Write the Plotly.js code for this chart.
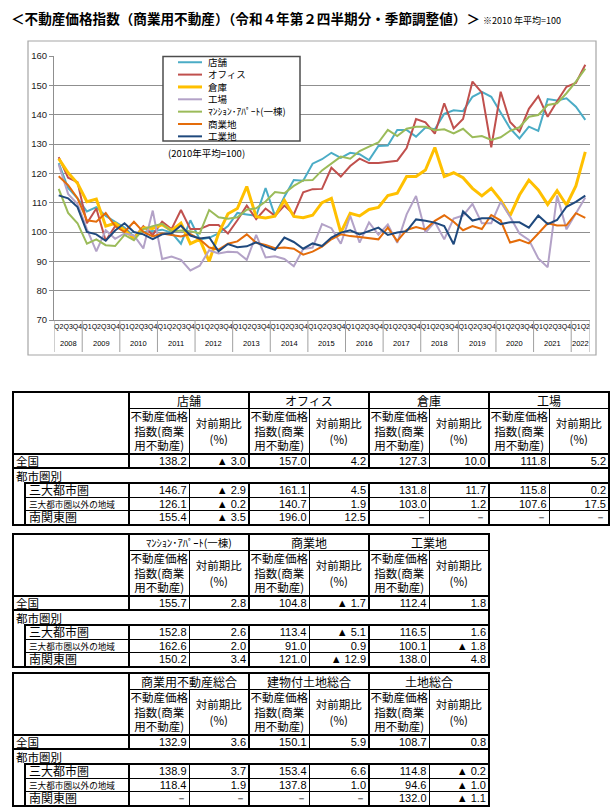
<!DOCTYPE html>
<html><head><meta charset="utf-8">
<script src="https://cdn.plot.ly/plotly-3.0.1.min.js"></script>
<style>
html,body{margin:0;padding:0;background:#fff;width:614px;height:809px;overflow:hidden;font-family:"Noto Sans CJK JP",sans-serif;color:#000;}
#chart{position:absolute;left:0;top:0;width:614px;height:362px;}
table.t{border-collapse:collapse;table-layout:fixed;position:absolute;left:12px;border:2px solid #000;}
table.t td{padding:0;white-space:nowrap;vertical-align:middle;}
.corner{border-right:2px solid #000;border-bottom:2px solid #000;}
.grp{border-left:2px solid #000;border-right:2px solid #000;border-bottom:1px solid #000;text-align:center;height:15px;font-size:12px;line-height:14px;}
.grp.small{font-size:10.5px;}
.s1{border-left:2px solid #000;border-right:1px solid #000;border-bottom:2px solid #000;text-align:center;font-size:11.5px;line-height:14.5px;height:44px;}
.s2{border-right:2px solid #000;border-bottom:2px solid #000;text-align:center;font-size:11.5px;line-height:16px;}
.v1{border-left:2px solid #000;border-right:1px solid #000;text-align:right;padding-right:2px !important;font-family:"Liberation Sans",Arial,sans-serif;font-size:11px;line-height:12px;}
.v2{border-right:2px solid #000;text-align:right;padding-right:2px !important;font-family:"Liberation Sans",Arial,sans-serif;font-size:11px;line-height:12px;}
.lab{text-align:left;font-size:11.5px;line-height:12px;padding-left:2px !important;}
.r0 td{border-bottom:2px solid #000;height:12px;}
.r1 td{height:13px;}
.rd td{height:12.5px;border-top:1px solid #000;}
.rd.first td{border-top:2px solid #000;}
.rd td.ind{border-top:none;border-bottom:none;border-right:2px solid #000;}
.lab2{font-size:12px;padding-left:3px !important;line-height:12px;border-right:2px solid #000;}
.lab2.tiny{font-size:8.6px;}
</style>
</head><body>
<div id="chart"></div>
<div id="tables"></div>
<script>
// ---------- chart data ----------
const xYears = ['2008','2008','2008',
 '2009','2009','2009','2009','2010','2010','2010','2010','2011','2011','2011','2011',
 '2012','2012','2012','2012','2013','2013','2013','2013','2014','2014','2014','2014',
 '2015','2015','2015','2015','2016','2016','2016','2016','2017','2017','2017','2017',
 '2018','2018','2018','2018','2019','2019','2019','2019','2020','2020','2020','2020',
 '2021','2021','2021','2021','2022','2022'];
const xQuarters = ['Q2','Q3','Q4',
 'Q1','Q2','Q3','Q4','Q1','Q2','Q3','Q4','Q1','Q2','Q3','Q4',
 'Q1','Q2','Q3','Q4','Q1','Q2','Q3','Q4','Q1','Q2','Q3','Q4',
 'Q1','Q2','Q3','Q4','Q1','Q2','Q3','Q4','Q1','Q2','Q3','Q4',
 'Q1','Q2','Q3','Q4','Q1','Q2','Q3','Q4','Q1','Q2','Q3','Q4',
 'Q1','Q2','Q3','Q4','Q1','Q2'];

const seriesNames = ['店舗','オフィス','倉庫','工場','ﾏﾝｼｮﾝ･ｱﾊﾟｰﾄ(一棟)','商業地','工業地'];
const seriesColors = ['#4BACC6','#C0504D','#FFC000','#B3A2C7','#9BBB59','#E46C0A','#1F497D'];
const seriesWidths = [2,2,3,2,2,2,2];

const store = [123.5,115,111.5,107,108.5,105.5,103.5,101.5,98.5,100,100.3,100.8,99.8,96,104,97.5,98,99.5,102,106.5,106,105.5,115,105.5,112,117.7,117.5,123.3,124.8,127,125.3,127,126.5,124.5,129.3,129.5,134.8,134.8,132.5,135.6,135,140.3,141.5,141.2,146.1,147.8,146.1,140.5,135.3,131.9,135.9,134.5,145.3,144.8,145.6,142.7,138.2];
const office = [125.5,118.5,117,103,108,97,102,101,98,102,99,103.5,101,107.5,101,101,102.4,102.4,99.5,104,109,104.4,108,105.5,109,106,113.5,114.6,114.7,121.9,118.9,122.5,125,123.5,123.5,123.9,124.3,128.6,138.5,137.4,133.5,143.9,135.3,138.5,151.3,147.5,128.9,147.8,137.5,134.2,142,146.3,139.3,144.6,149.5,150.8,157.0];
const warehouse = [125,120.2,116.6,110.3,111.2,102,103,100.6,97.8,101.4,101.2,102.5,100.5,103,96,97.5,90,99.5,106.2,108,115.5,105.2,104.8,105.4,110.8,105.3,104.9,105.7,110,111.5,99.8,106.4,105.5,107.7,108.4,112.4,113.2,118.9,118.9,121.1,128.8,118.9,120.2,118.5,114.9,112.3,114.9,110.9,105.6,112.6,117.7,114.3,109.4,114.1,109.2,115.7,127.3];
const factory = [123,113,109.5,101,93.4,100.6,97.7,99.5,98.8,94.4,107.3,90.8,91.6,90.5,86.9,88.5,93.8,92.7,93.3,93.1,90.5,99,91.3,91.7,90.8,88.3,94.2,94.7,102.7,101.3,96,105.5,96.4,103.3,99.1,102.6,96.3,106,112.3,99.8,103.4,97.5,104.6,105.6,109.6,103,103,110.3,105.2,99.5,97.3,91,88,112.4,100.9,106.4,111.8];
const apartment = [114.7,106.5,103,96,97.5,95.5,95.2,99,97.2,101,102,102.8,100.2,100.5,100.3,99.5,107.5,105,104.5,105,107.6,108.1,110.4,113.6,113.2,115.7,117.6,117.7,121,123.4,125.7,125,127.6,129.1,130.5,134.8,132.7,135.2,135.9,135.9,134.7,135,133.6,135.2,132.3,132.7,131.4,132.3,134.5,135.7,139.3,139.9,143.3,143.9,147.3,151.3,155.7];
const commercialLand = [119,116,111.5,104,103.5,106.5,102,100,103.5,100,98.5,99.5,99,98.5,99.3,97.5,94.7,94,96,96.8,99.2,96.3,95.6,94.5,94.7,94.3,92.3,93.3,95,97.5,99.2,98.6,98.3,97.8,97.5,101.5,96.9,100.7,101.7,100.9,103.8,105.7,103.5,100.6,102,101,105.8,103.9,96.4,97.3,96.1,99.5,103,102.2,102.3,106.4,104.8];
const industrialLand = [112.5,111.5,108.5,100,99.2,97,100.5,103,100,99.2,97.6,99.2,99.6,102.2,98.8,97.8,98.2,93.4,95.9,94.8,95.1,96.5,95,93.9,98.1,96.6,94.3,96.1,95.2,98.1,99.8,100.6,99.2,100.3,101.5,99,99.8,100.3,104.3,103.8,103.2,102,95.8,107,103.9,104.7,104.7,102.7,103.3,103.3,101.5,105.6,102.7,104.1,108.6,110.3,112.4];
const seriesValues = [store, office, warehouse, factory, apartment, commercialLand, industrialLand];

const yTicks = [70,80,90,100,110,120,130,140,150,160];
const chartTitle = '＜不動産価格指数（商業用不動産）（令和４年第２四半期分・季節調整値）＞';
const chartNote = '※2010 年平均=100';
const baseNote = '(2010年平均=100)';

// ---------- table data ----------
const rowLabels = ['全国','都市圏別','三大都市圏','三大都市圏以外の地域','南関東圏'];
const subHeadIndex = '不動産価格<br>指数(商業<br>用不動産)';
const subHeadChange = '対前期比<br>(%)';
// values per category: [全国, 三大都市圏, 三大都市圏以外の地域, 南関東圏]
const t1Cats = ['店舗','オフィス','倉庫','工場'];
const t1Index = [[138.2,146.7,126.1,155.4],[157.0,161.1,140.7,196.0],[127.3,131.8,103.0,null],[111.8,115.8,107.6,null]];
const t1Change = [[-3.0,-2.9,-0.2,-3.5],[4.2,4.5,1.9,12.5],[10.0,11.7,1.2,null],[5.2,0.2,17.5,null]];
const t2Cats = ['ﾏﾝｼｮﾝ･ｱﾊﾟｰﾄ(一棟)','商業地','工業地'];
const t2Index = [[155.7,152.8,162.6,150.2],[104.8,113.4,91.0,121.0],[112.4,116.5,100.1,138.0]];
const t2Change = [[2.8,2.6,2.0,3.4],[-1.7,-5.1,0.9,-12.9],[1.8,1.6,-1.8,4.8]];
const t3Cats = ['商業用不動産総合','建物付土地総合','土地総合'];
const t3Index = [[132.9,138.9,118.4,null],[150.1,153.4,137.8,null],[108.7,114.8,94.6,132.0]];
const t3Change = [[3.6,3.7,1.9,null],[5.9,6.6,1.0,null],[0.8,-0.2,-1.0,-1.1]];

// ---------- chart ----------
const xCats = xYears.map((y,i)=>y+'-'+xQuarters[i]);
const traces = seriesNames.map((n,k)=>({
  type:'scatter', mode:'lines', name:n,
  x:xCats, y:seriesValues[k],
  line:{color:seriesColors[k], width:seriesWidths[k]},
  hoverinfo:'skip'
}));

const W = 536, H = 264, L = 54, T = 56;
const px = x => (x - L)/W;
const py = y => 1 - (y - T)/H;

const shapes = [
  {type:'rect', xref:'paper', yref:'paper', x0:px(28), x1:px(596), y0:py(355), y1:py(41), line:{color:'#a6a6a6', width:1.2}, layer:'below'},
  {type:'rect', xref:'paper', yref:'paper', x0:px(163), x1:px(300), y0:py(141), y1:py(56.5), line:{color:'#4d4d4d', width:1.5}, fillcolor:'#ffffff', layer:'above'}
];
const annotations = [];
// custom legend: one multi-line text block, sample lines aligned to its rows
const legFont = 9.5, legStep = legFont*1.3, legMid = 99.3;
seriesNames.forEach((n,k)=>{
  const yy = legMid + (k-3)*legStep;
  shapes.push({type:'line', xref:'paper', yref:'paper', x0:px(178), x1:px(202), y0:py(yy), y1:py(yy), line:{color:seriesColors[k], width:seriesWidths[k]}, layer:'above'});
});
annotations.push({xref:'paper', yref:'paper', x:px(206), y:py(legMid), xanchor:'left', yanchor:'middle', align:'left', showarrow:false,
  text:seriesNames.join('<br>'), font:{size:legFont, family:'Noto Sans CJK JP', color:'#000'}});
annotations.push({xref:'paper', yref:'paper', x:px(206), y:py(153), xanchor:'center', yanchor:'middle', showarrow:false, text:baseNote, font:{size:9.5, family:'Noto Sans CJK JP', color:'#000'}});

// year labels and dividers below the category axis
const yearList = [...new Set(xYears)];
yearList.forEach(yr=>{
  const first = xYears.indexOf(yr), last = xYears.lastIndexOf(yr);
  annotations.push({xref:'x', yref:'paper', x:(first+last)/2, y:py(343), xanchor:'center', yanchor:'middle', showarrow:false, text:yr,
    font:{size:7.5, family:'Liberation Sans Narrow, Liberation Sans, Arial', color:'#000'}});
  shapes.push({type:'line', xref:'x', yref:'paper', x0:first-0.5, x1:first-0.5, y0:0, y1:py(352), line:{color:'#a0a0a0', width:1}});
});
shapes.push({type:'line', xref:'x', yref:'paper', x0:xCats.length-0.5, x1:xCats.length-0.5, y0:0, y1:py(352), line:{color:'#a0a0a0', width:1}});

const layout = {
  width:614, height:362,
  margin:{l:L, r:614-L-W, t:T, b:362-T-H, pad:0},
  paper_bgcolor:'rgba(0,0,0,0)', plot_bgcolor:'#fff',
  showlegend:false,
  title:{text:'<b>'+chartTitle+'</b> <span style="font-size:9px">'+chartNote+'</span>', xref:'container', yref:'container', x:11/614, xanchor:'left', y:1-19/362, yanchor:'middle', font:{size:13.6, family:'Noto Sans CJK JP', color:'#000'}},
  xaxis:{type:'category', categoryorder:'array', categoryarray:xCats, tickvals:xCats, ticktext:xQuarters, tickangle:0,
    tickfont:{size:7, family:'Liberation Sans Narrow, Liberation Sans, Arial', color:'#000'},
    showgrid:false, showline:true, linecolor:'#8f8f8f', linewidth:1, ticks:'', range:[-0.5,xCats.length-0.5], fixedrange:true, automargin:false},
  yaxis:{range:[70,160], tickvals:yTicks, showgrid:true, gridcolor:'#8f8f8f', gridwidth:1, showline:true, linecolor:'#8f8f8f', linewidth:1,
    ticks:'outside', ticklen:4, tickcolor:'#8f8f8f', tickfont:{size:9.5, family:'Liberation Sans, Arial', color:'#222'}, zeroline:false, fixedrange:true, automargin:false},
  shapes:shapes, annotations:annotations
};
Plotly.newPlot('chart', traces, layout, {displayModeBar:false, staticPlot:true});

// ---------- tables ----------
function fmtIdx(v){ return v==null ? '－' : v.toFixed(1); }
function fmtChg(v){ return v==null ? '－' : (v<0 ? '▲ '+Math.abs(v).toFixed(1) : v.toFixed(1)); }
function buildTable(top, cats, idx, chg){
  let h = '<table class="t" style="top:'+top+'px"><colgroup><col style="width:12px"><col style="width:104px">';
  cats.forEach(()=>{ h += '<col style="width:60px"><col style="width:60px">'; });
  h += '</colgroup>';
  h += '<tr><td class="corner" colspan="2" rowspan="2"></td>';
  cats.forEach(c=>{ h += '<td class="grp'+(c.length>8?' small':'')+'" colspan="2">'+c+'</td>'; });
  h += '</tr><tr>';
  cats.forEach(()=>{ h += '<td class="s1">'+subHeadIndex+'</td><td class="s2">'+subHeadChange+'</td>'; });
  h += '</tr>';
  h += '<tr class="r0"><td class="lab" colspan="2" style="border-right:2px solid #000">'+rowLabels[0]+'</td>';
  cats.forEach((c,k)=>{ h += '<td class="v1">'+fmtIdx(idx[k][0])+'</td><td class="v2">'+fmtChg(chg[k][0])+'</td>'; });
  h += '</tr>';
  h += '<tr class="r1"><td class="lab" colspan="'+(2+cats.length*2)+'">'+rowLabels[1]+'</td></tr>';
  for(let r=1;r<4;r++){
    h += '<tr class="rd'+(r===1?' first':'')+'"><td class="ind"></td><td class="lab2'+(r===2?' tiny':'')+'">'+rowLabels[r+1]+'</td>';
    cats.forEach((c,k)=>{ h += '<td class="v1">'+fmtIdx(idx[k][r])+'</td><td class="v2">'+fmtChg(chg[k][r])+'</td>'; });
    h += '</tr>';
  }
  h += '</table>';
  return h;
}
document.getElementById('tables').innerHTML =
  buildTable(391, t1Cats, t1Index, t1Change) +
  buildTable(533, t2Cats, t2Index, t2Change) +
  buildTable(672, t3Cats, t3Index, t3Change);
</script>
</body></html>
